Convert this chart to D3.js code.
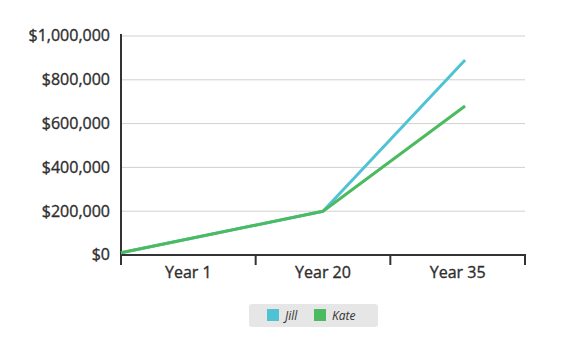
<!DOCTYPE html>
<html lang="en">
<head>
<meta charset="UTF-8">
<title>Jill vs Kate</title>
<script src="https://d3js.org/d3.v7.min.js"></script>
<style>
    body { margin: 0; background: #fff; }
    text { font-family: "Open Sans", sans-serif; fill: #333; }
    .grid line { stroke: #d0d0d0; stroke-width: 1px; }
    .axis path, .axis line { stroke: #333; stroke-width: 2px; }
    .axis text { font-size: 16px; fill: #2e2e2e; stroke: #2e2e2e; stroke-width: 0.35px; }
</style>
</head>
<body>
<svg id="chart"></svg>
<script>
    // data
    const categories = ['Year 1', 'Year 20', 'Year 35'];
    const years = [0, 20, 35];
    const jill = [10000, 200000, 890000];
    const kate = [10000, 200000, 680000];
    const seriesNames = ['Jill', 'Kate'];
    const yTicks = [0, 200000, 400000, 600000, 800000, 1000000];

    const W = 562, H = 351;
    const margin = { top: 36, right: 37, bottom: 96, left: 121 };
    const width = W - margin.left - margin.right;
    const height = H - margin.top - margin.bottom;
    const colors = { Jill: '#4fc3d4', Kate: '#4cbb60' };

    const svg = d3.select('#chart').attr('width', W).attr('height', H);
    const g = svg.append('g').attr('transform', `translate(${margin.left},${margin.top})`);

    const x = d3.scaleBand().domain(categories).range([0, width]);
    const bw = x.bandwidth();
    // line points: start at axis origin, middle at band centre, end a bit past
    const xLine = d3.scaleLinear().domain(years).range([0, 1.5 * bw, 2.555 * bw]);
    const y = d3.scaleLinear().domain([0, 1000000]).range([height, 0]);

    // gridlines
    g.append('g').attr('class', 'grid')
        .selectAll('line').data(yTicks.slice(1)).enter().append('line')
        .attr('x1', 0).attr('x2', width)
        .attr('y1', d => y(d)).attr('y2', d => y(d));

    // y axis
    const yAxis = g.append('g').attr('class', 'axis')
        .call(d3.axisLeft(y).tickValues(yTicks).tickSize(0).tickPadding(11)
            .tickFormat(d => '$' + d3.format(',')(d)));
    yAxis.select('.domain').attr('d', `M0,-2V${height}`);
    yAxis.selectAll('text').attr('dy', '0.3em');

    // x axis
    const xAxis = g.append('g').attr('class', 'axis')
        .attr('transform', `translate(0,${height})`)
        .call(d3.axisBottom(x).tickSize(0).tickPadding(12));
    xAxis.select('.domain').remove();
    xAxis.append('line').attr('x1', -1).attr('x2', width + 1).attr('y1', 0).attr('y2', 0);
    xAxis.selectAll('.edge').data(d3.range(categories.length + 1)).enter().append('line')
        .attr('x1', d => d * bw).attr('x2', d => d * bw)
        .attr('y1', 0).attr('y2', 10);

    // lines
    const line = d3.line().x((d, i) => xLine(years[i])).y(d => y(d));
    [['Jill', jill], ['Kate', kate]].forEach(([name, vals]) => {
        g.append('path').datum(vals)
            .attr('fill', 'none')
            .attr('stroke', colors[name])
            .attr('stroke-width', 3)
            .attr('stroke-linejoin', 'round')
            .attr('d', line);
    });

    // legend
    const legend = svg.append('g').attr('transform', 'translate(249,304)');
    legend.append('rect').attr('width', 129).attr('height', 23).attr('rx', 3)
        .attr('fill', '#e6e6e6');
    const item = legend.selectAll('.item').data(seriesNames).enter().append('g')
        .attr('transform', (d, i) => `translate(${18 + i * 47},5)`);
    item.append('rect').attr('width', 12).attr('height', 12).attr('fill', d => colors[d]);
    item.append('text').attr('x', 18).attr('y', 10.5)
        .style('font-size', '12px').style('font-style', 'italic')
        .text(d => d);
</script>
</body>
</html>
